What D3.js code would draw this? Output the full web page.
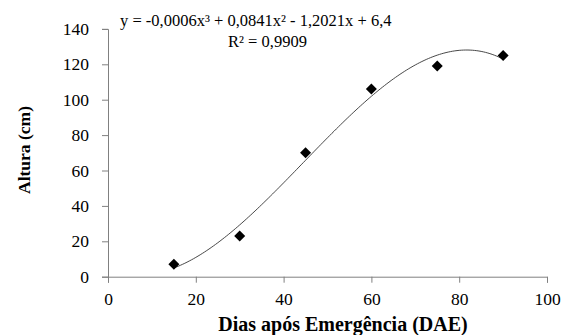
<!DOCTYPE html>
<html>
<head>
<meta charset="utf-8">
<script src="https://cdn.jsdelivr.net/npm/d3@7.9.0/dist/d3.min.js"></script>
<style>
  body { margin: 0; background: #fff; }
  svg { display: block; }
  svg text { font-family: 'Liberation Serif', 'Times New Roman', serif; }
</style>
</head>
<body>
<svg id="chart" width="563" height="335"></svg>
<script>
// observed heights
const days = [15, 30, 45, 60, 75, 90];
const heights = [7, 23, 70, 106, 119, 125];
const xTicks = [0, 20, 40, 60, 80, 100];
const yTicks = [0, 20, 40, 60, 80, 100, 120, 140];
const eqText = 'y = -0,0006x³ + 0,0841x² - 1,2021x + 6,4';
const r2Text = 'R² = 0,9909';

const svg = d3.select('#chart');
const x = d3.scaleLinear().domain([0, 100]).range([108, 547]);
const y = d3.scaleLinear().domain([0, 140]).range([276.7, 28.9]);

// cubic least squares trendline, like the spreadsheet does
function polyFit(xs, ys, deg) {
  const n = deg + 1;
  const A = Array.from({ length: n }, () => new Array(n + 1).fill(0));
  xs.forEach((xv, k) => {
    for (let i = 0; i < n; i++) {
      for (let j = 0; j < n; j++) A[i][j] += Math.pow(xv, i + j);
      A[i][n] += ys[k] * Math.pow(xv, i);
    }
  });
  for (let i = 0; i < n; i++) {
    let p = i;
    for (let r = i + 1; r < n; r++) if (Math.abs(A[r][i]) > Math.abs(A[p][i])) p = r;
    [A[i], A[p]] = [A[p], A[i]];
    for (let r = 0; r < n; r++) {
      if (r === i) continue;
      const f = A[r][i] / A[i][i];
      for (let c = i; c <= n; c++) A[r][c] -= f * A[i][c];
    }
  }
  return A.map((row, i) => row[n] / row[i]);
}
const coef = polyFit(days, heights, 3);
const fx = (v) => coef.reduce((s, c, i) => s + c * Math.pow(v, i), 0);
const curve = d3.range(days[0], days[days.length - 1] + 0.01, 0.5).map((v) => [v, fx(v)]);

// axes
const xAxis = svg.append('g')
  .attr('transform', `translate(0,${y(0)})`)
  .call(d3.axisBottom(x).tickValues(xTicks).tickSize(6).tickPadding(6));
const yAxis = svg.append('g')
  .attr('transform', `translate(${x(0)},0)`)
  .call(d3.axisLeft(y).tickValues(yTicks).tickSize(6).tickPadding(13));

[xAxis, yAxis].forEach((g) => {
  g.attr('font-family', null).attr('font-size', null);
  g.selectAll('path, line').attr('stroke', '#808080').attr('stroke-width', 1);
  g.selectAll('text')
    .style('font-size', '17.5px')
    .attr('fill', '#000');
});
xAxis.selectAll('text').attr('dy', '0.95em');

// trend curve
svg.append('path')
  .datum(curve)
  .attr('d', d3.line().x((d) => x(d[0])).y((d) => y(d[1])))
  .attr('fill', 'none')
  .attr('stroke', '#333')
  .attr('stroke-width', 0.9);

// diamond markers
svg.selectAll('.pt')
  .data(days)
  .join('path')
  .attr('class', 'pt')
  .attr('transform', (d, i) => `translate(${x(d)},${y(heights[i])})`)
  .attr('d', 'M0,-5.5L5.5,0L0,5.5L-5.5,0Z')
  .attr('fill', '#000');

// equation labels
svg.append('text')
  .attr('x', 120).attr('y', 26)
  .style('font-size', '16.5px')
  .text(eqText);
svg.append('text')
  .attr('x', 228).attr('y', 47)
  .style('font-size', '16.5px')
  .text(r2Text);

// axis titles
svg.append('text')
  .attr('x', 343)
  .attr('y', 331)
  .attr('text-anchor', 'middle')
  .style('font-weight', 'bold')
  .style('font-size', '20px')
  .text('Dias após Emergência (DAE)');
svg.append('text')
  .attr('transform', 'translate(30,150) rotate(-90)')
  .attr('text-anchor', 'middle')
  .style('font-weight', 'bold')
  .style('font-size', '17.5px')
  .text('Altura (cm)');
</script>
</body>
</html>
